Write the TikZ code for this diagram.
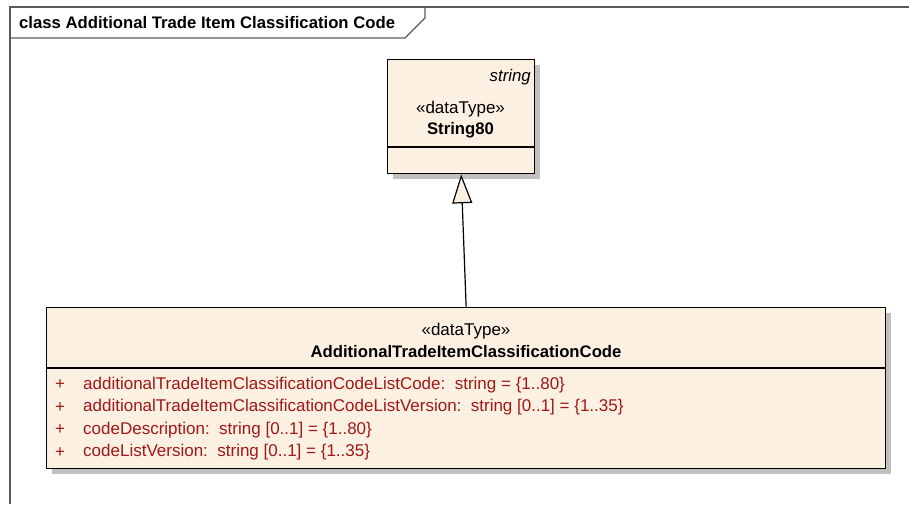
\documentclass[tikz,border=0pt]{standalone}
\usepackage{fontspec}
\setmainfont{Liberation Sans}
\usetikzlibrary{arrows.meta,shadows}
\definecolor{boxfill}{RGB}{251,240,225}
\definecolor{attrc}{RGB}{160,24,24}
\definecolor{shadowc}{RGB}{192,192,192}
\definecolor{framec}{RGB}{90,90,90}
\begin{document}
\begin{tikzpicture}[x=1pt,y=-1pt,
  classbox/.style={draw=black, line width=1.3pt, fill=boxfill, inner sep=0pt, rectangle,
    drop shadow={shadow xshift=5pt, shadow yshift=-5pt, fill=shadowc, opacity=1}},
  sep/.style={draw=black, line width=1.3pt},
  frameline/.style={draw=framec, line width=1.2pt},
  regtxt/.style={inner sep=0pt, font=\fontsize{17}{20}\selectfont},
  boldtxt/.style={inner sep=0pt, font=\fontsize{16.7}{20}\selectfont\bfseries},
  itxt/.style={inner sep=0pt, font=\fontsize{16.8}{20}\selectfont\itshape},
  attrtxt/.style={regtxt, text=attrc, anchor=west},
  plustxt/.style={regtxt, text=attrc},
  genarrow/.style={draw=black, line width=1.2pt, -{Triangle[length=29pt, width=20pt, fill=boxfill, line width=1.2pt]}}
]
\useasboundingbox (0,0) rectangle (909,504);

% diagram frame
\draw[frameline] (10,504) -- (10,7) -- (909,7);
\draw[frameline] (10,38) -- (405,38) -- (425,18) -- (425,7);
\node[boldtxt, anchor=west] (title) at (19,23) {class Additional Trade Item Classification Code};

% String80
\node[classbox, minimum width=147pt, minimum height=114pt, anchor=north west] (s80) at (387,59) {};
\draw[sep] (s80.west |- 0,147) -- (s80.east |- 0,147);
\node[itxt, anchor=east] (s80kw) at (531,77) {string};
\node[regtxt] (s80st) at (460.5,109) {«dataType»};
\node[boldtxt] (s80nm) at (460.5,130) {String80};

% AdditionalTradeItemClassificationCode
\node[classbox, minimum width=839pt, minimum height=161pt, anchor=north west] (atc) at (46,307) {};
\draw[sep] (atc.west |- 0,368) -- (atc.east |- 0,368);
\node[regtxt] (atcst) at (466,331) {«dataType»};
\node[boldtxt] (atcnm) at (466,352) {AdditionalTradeItemClassificationCode};

\node[plustxt] (p1) at (60,385) {+};
\node[attrtxt] (a1) at (83,385) {additionalTradeItemClassificationCodeListCode:\ \ string = \{1..80\}};
\node[plustxt] (p2) at (60,407.5) {+};
\node[attrtxt] (a2) at (83,407.5) {additionalTradeItemClassificationCodeListVersion:\ \ string [0..1] = \{1..35\}};
\node[plustxt] (p3) at (60,430) {+};
\node[attrtxt] (a3) at (83,430) {codeDescription:\ \ string [0..1] = \{1..80\}};
\node[plustxt] (p4) at (60,452.5) {+};
\node[attrtxt] (a4) at (83,452.5) {codeListVersion:\ \ string [0..1] = \{1..35\}};

% generalization
\draw[genarrow] (atc.north) -- (s80.south);
\end{tikzpicture}
\end{document}
